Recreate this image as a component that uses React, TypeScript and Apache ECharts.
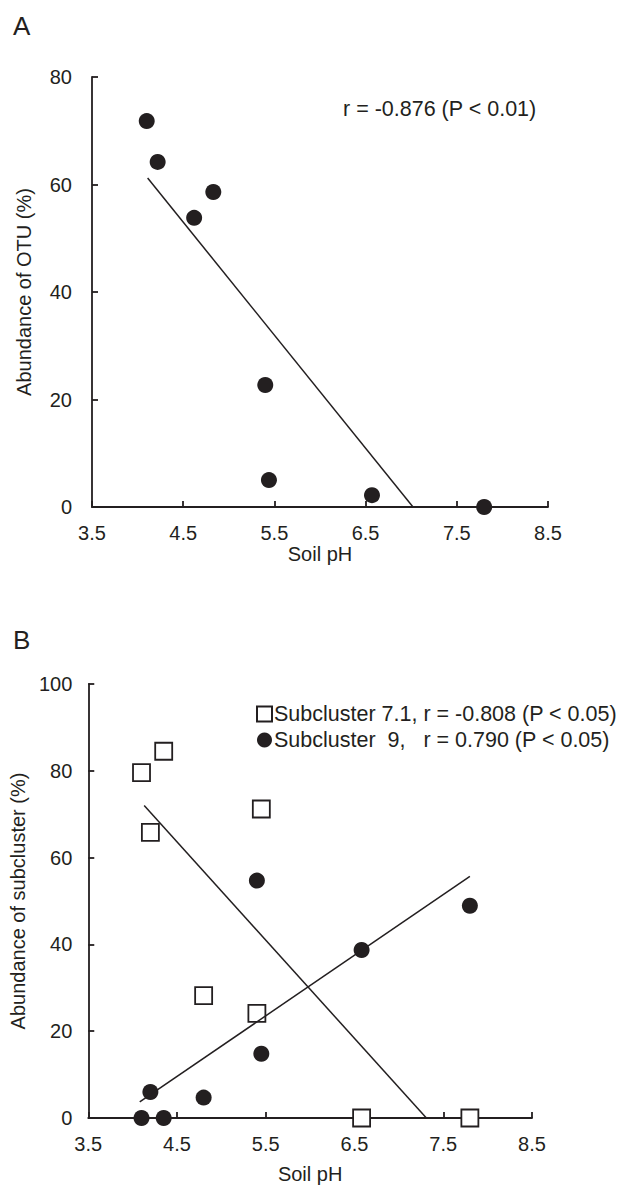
import React, { useEffect, useRef } from "react";
import * as echarts from "echarts";

// Panel A
const pHA = [4.1, 4.22, 4.62, 4.83, 5.4, 5.44, 6.57, 7.8];
const otuA = [71.8, 64.2, 53.8, 58.6, 22.7, 5.0, 2.2, 0];
const regAx = [4.11, 7.02];
const regAy = [61.2, 0];

// Panel B
const pHB = [4.1, 4.2, 4.35, 4.8, 5.4, 5.45, 6.58, 7.8];
const sub71 = [79.6, 65.8, 84.5, 28.2, 24.1, 71.2, 0, 0];
const sub9 = [0, 6.0, 0, 4.7, 54.7, 14.8, 38.7, 48.9];
const reg71x = [4.13, 7.31];
const reg71y = [72.0, 0];
const reg9x = [4.08, 7.8];
const reg9y = [3.7, 55.7];

const xTicks = ["3.5", "4.5", "5.5", "6.5", "7.5", "8.5"];
const INK = "#231f20";
const FONT = "Liberation Sans";
const FS = 20;

const zip = (xs: number[], ys: number[]) => xs.map((x, i) => [x, ys[i]]);

export default function App() {
  const ref = useRef<HTMLDivElement>(null);
  useEffect(() => {
    document.body.style.margin = "0";
    const chart = echarts.init(ref.current!, null, { renderer: "svg" });
    const axisCommon = {
      axisLine: { show: true, lineStyle: { color: INK, width: 1.8 } },
      axisTick: { show: true, inside: true, length: 6, lineStyle: { color: INK, width: 1.8 } },
      splitLine: { show: false },
      axisLabel: { color: INK, fontSize: FS, fontFamily: FONT },
      nameTextStyle: { color: INK, fontSize: FS, fontFamily: FONT },
    };
    const xAxisFor = (gi: number, gap: number) => ({
      ...axisCommon,
      type: "value",
      gridIndex: gi,
      min: 3.5,
      max: 8.5,
      interval: 1,
      name: "Soil pH",
      nameLocation: "middle",
      nameGap: gap,
      axisLabel: {
        ...axisCommon.axisLabel,
        margin: 16,
        formatter: (v: number) => {
          const s = v.toFixed(1);
          return xTicks.includes(s) ? s : "";
        },
      },
    });
    chart.setOption({
      animation: false,
      textStyle: { fontFamily: FONT },
      grid: [
        { left: 92, top: 77, width: 456, height: 430 },
        { left: 88, top: 684, width: 444, height: 434 },
      ],
      xAxis: [xAxisFor(0, 33), xAxisFor(1, 46)],
      yAxis: [
        {
          ...axisCommon,
          type: "value",
          gridIndex: 0,
          min: 0,
          max: 80,
          interval: 20,
          name: "Abundance of OTU (%)",
          nameLocation: "middle",
          nameGap: 58,
          axisLabel: { ...axisCommon.axisLabel, margin: 20 },
        },
        {
          ...axisCommon,
          type: "value",
          gridIndex: 1,
          min: 0,
          max: 100,
          interval: 20,
          name: "Abundance of subcluster (%)",
          nameLocation: "middle",
          nameGap: 54,
          axisLabel: { ...axisCommon.axisLabel, margin: 16 },
        },
      ],
      legend: {
        data: [
          "Subcluster 7.1, r = -0.808 (P < 0.05)",
          "Subcluster  9,   r = 0.790 (P < 0.05)",
        ],
        orient: "vertical",
        left: 251,
        top: 698,
        itemWidth: 15,
        itemHeight: 15,
        itemGap: 4,
        selectedMode: false,
        textStyle: { color: INK, fontSize: 21.5, fontFamily: FONT, padding: [0, 0, 0, -3] },
      },
      graphic: [
        { type: "text", left: 13, top: 13, style: { text: "A", fontSize: 26, fill: INK, fontFamily: FONT } },
        { type: "text", left: 13, top: 627, style: { text: "B", fontSize: 26, fill: INK, fontFamily: FONT } },
        {
          type: "text",
          left: 343,
          top: 98,
          style: { text: "r = -0.876 (P < 0.01)", fontSize: 21.5, fill: INK, fontFamily: FONT },
        },
      ],
      series: [
        {
          type: "line",
          xAxisIndex: 0,
          yAxisIndex: 0,
          data: zip(regAx, regAy),
          symbol: "none",
          lineStyle: { color: INK, width: 1.5 },
        },
        {
          type: "scatter",
          xAxisIndex: 0,
          yAxisIndex: 0,
          data: zip(pHA, otuA),
          symbol: "circle",
          symbolSize: 16,
          itemStyle: { color: INK, opacity: 1 },
          clip: false,
        },
        {
          type: "line",
          xAxisIndex: 1,
          yAxisIndex: 1,
          data: zip(reg71x, reg71y),
          symbol: "none",
          lineStyle: { color: INK, width: 1.5 },
        },
        {
          type: "line",
          xAxisIndex: 1,
          yAxisIndex: 1,
          data: zip(reg9x, reg9y),
          symbol: "none",
          lineStyle: { color: INK, width: 1.5 },
        },
        {
          name: "Subcluster 7.1, r = -0.808 (P < 0.05)",
          type: "scatter",
          xAxisIndex: 1,
          yAxisIndex: 1,
          data: zip(pHB, sub71),
          symbol: "rect",
          symbolSize: 17,
          itemStyle: { color: "#ffffff", borderColor: INK, borderWidth: 1.8, opacity: 1 },
          clip: false,
        },
        {
          name: "Subcluster  9,   r = 0.790 (P < 0.05)",
          type: "scatter",
          xAxisIndex: 1,
          yAxisIndex: 1,
          data: zip(pHB, sub9),
          symbol: "circle",
          symbolSize: 16,
          itemStyle: { color: INK, opacity: 1 },
          clip: false,
        },
      ],
    });
    return () => chart.dispose();
  }, []);
  return <div ref={ref} style={{ width: 630, height: 1186 }} />;
}
